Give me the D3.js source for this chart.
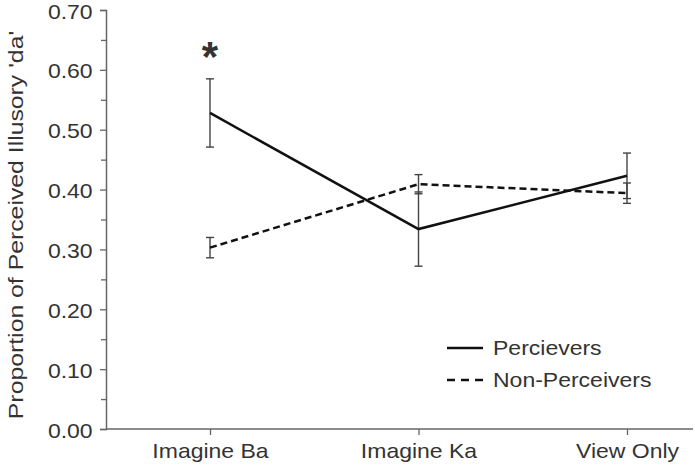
<!DOCTYPE html>
<html>
<head>
<meta charset="utf-8">
<script src="https://cdn.jsdelivr.net/npm/d3@7"></script>
<style>
  body { margin: 0; background: #fff; }
  text { font-family: "Liberation Sans", Arial, sans-serif; fill: #333; }
</style>
</head>
<body>
<svg width="695" height="472"></svg>
<script>
// data
var conditions = ["Imagine Ba", "Imagine Ka", "View Only"];
var perceiversMean = [0.528, 0.334, 0.423];
var perceiversErr = [0.057, 0.062, 0.038];
var nonPerceiversMean = [0.303, 0.409, 0.394];
var nonPerceiversErr = [0.017, 0.016, 0.017];
var yTicks = [0, 0.1, 0.2, 0.3, 0.4, 0.5, 0.6, 0.7];
var yMinorTicks = [0.05, 0.15, 0.25, 0.35, 0.45, 0.55, 0.65];
var seriesNames = ["Percievers", "Non-Perceivers"];

var stretch = 1.15;   // the picture's text is wider than plain Arial

var svg = d3.select("svg");

var x = d3.scalePoint().domain(conditions).range([210, 627]);
var y = d3.scaleLinear().domain([0, 0.7]).range([429, 10]);

var axisColor = "#666";

// y axis
var gy = svg.append("g").attr("transform", "translate(106,0)");
gy.call(d3.axisLeft(y).tickValues(yTicks).tickSize(6).tickFormat(d3.format(".2f")));
gy.select(".domain").attr("stroke", axisColor).attr("stroke-width", 1.5);
gy.selectAll(".tick line").attr("stroke", axisColor).attr("stroke-width", 1.3);
gy.selectAll(".tick text")
    .attr("x", -11.6)
    .attr("dy", "0.4em")
    .attr("transform", "scale(" + stretch + ",1)")
    .style("font-size", "20px")
    .style("font-family", "'Liberation Sans', Arial, sans-serif")
    .attr("fill", "#333");

var gyMinor = svg.append("g").attr("transform", "translate(106,0)");
gyMinor.call(d3.axisLeft(y).tickValues(yMinorTicks).tickSize(5).tickFormat(""));
gyMinor.select(".domain").remove();
gyMinor.selectAll(".tick line").attr("stroke", axisColor).attr("stroke-width", 1.3);

// x axis
var gx = svg.append("g").attr("transform", "translate(0,429)");
gx.call(d3.axisBottom(x).tickSize(6).tickPadding(8));
gx.select(".domain").remove();
gx.append("line").attr("x1", 106).attr("x2", 693).attr("y1", 0).attr("y2", 0)
    .attr("stroke", axisColor).attr("stroke-width", 1.5);
gx.selectAll(".tick line").attr("stroke", axisColor).attr("stroke-width", 1.3);
gx.selectAll(".tick text")
    .attr("y", 29.3)
    .attr("dy", 0)
    .attr("transform", "scale(" + stretch + ",1)")
    .style("font-size", "20px")
    .style("font-family", "'Liberation Sans', Arial, sans-serif")
    .attr("fill", "#333");

// y axis title
svg.append("text")
    .attr("transform", "translate(22.7,225) rotate(-90) scale(1.24,1)")
    .attr("text-anchor", "middle")
    .style("font-size", "20px")
    .text("Proportion of Perceived Illusory 'da'");

// error bars
function errorBars(means, errs) {
    var g = svg.append("g");
    var bars = g.selectAll("g.err")
        .data(conditions)
        .enter()
        .append("g")
        .attr("class", "err");
    bars.append("line")
        .attr("x1", function(d) { return x(d); })
        .attr("x2", function(d) { return x(d); })
        .attr("y1", function(d, i) { return y(means[i] + errs[i]); })
        .attr("y2", function(d, i) { return y(means[i] - errs[i]); });
    bars.append("line")
        .attr("x1", function(d) { return x(d) - 4; })
        .attr("x2", function(d) { return x(d) + 4; })
        .attr("y1", function(d, i) { return y(means[i] + errs[i]); })
        .attr("y2", function(d, i) { return y(means[i] + errs[i]); });
    bars.append("line")
        .attr("x1", function(d) { return x(d) - 4; })
        .attr("x2", function(d) { return x(d) + 4; })
        .attr("y1", function(d, i) { return y(means[i] - errs[i]); })
        .attr("y2", function(d, i) { return y(means[i] - errs[i]); });
    g.selectAll("line").attr("stroke", "#444").attr("stroke-width", 1.4);
}
errorBars(perceiversMean, perceiversErr);
errorBars(nonPerceiversMean, nonPerceiversErr);

// lines
var line = d3.line()
    .x(function(d, i) { return x(conditions[i]); })
    .y(function(d) { return y(d); });

svg.append("path")
    .datum(perceiversMean)
    .attr("d", line)
    .attr("fill", "none")
    .attr("stroke", "#111")
    .attr("stroke-width", 2.5);

svg.append("path")
    .datum(nonPerceiversMean)
    .attr("d", line)
    .attr("fill", "none")
    .attr("stroke", "#111")
    .attr("stroke-width", 2.5)
    .attr("stroke-dasharray", "7,4");

// significance marker
svg.append("text")
    .attr("x", x("Imagine Ba"))
    .attr("y", 71)
    .attr("text-anchor", "middle")
    .style("font-size", "42px")
    .style("font-weight", "bold")
    .attr("fill", "#111")
    .text("*");

// legend
var legend = svg.append("g").attr("transform", "translate(447,348)");
var legendItems = legend.selectAll("g")
    .data(seriesNames)
    .enter()
    .append("g")
    .attr("transform", function(d, i) { return "translate(0," + (i * 32) + ")"; });

legendItems.append("line")
    .attr("x1", 0).attr("x2", 36)
    .attr("stroke", "#111")
    .attr("stroke-width", 2.5)
    .attr("stroke-dasharray", function(d, i) { return i === 0 ? null : "8,6"; });

legendItems.append("text")
    .attr("transform", "translate(46,7) scale(" + stretch + ",1)")
    .style("font-size", "20px")
    .text(function(d) { return d; });
</script>
</body>
</html>
